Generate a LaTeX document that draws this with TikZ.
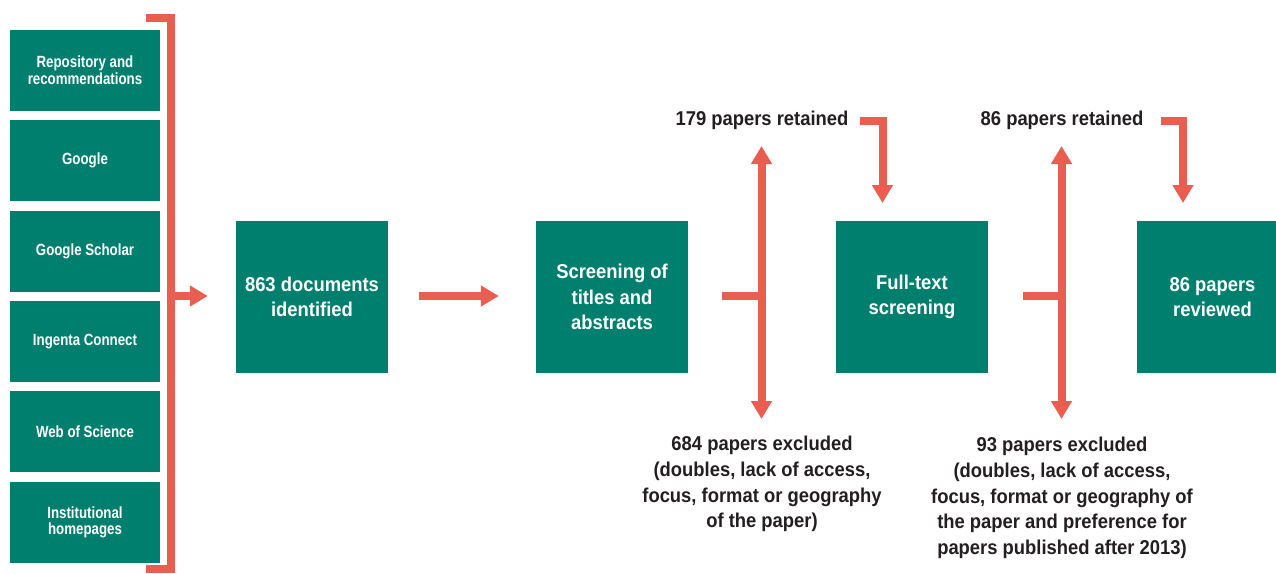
\documentclass[tikz,border=0pt]{standalone}
\usepackage{fontspec}
\setmainfont{Liberation Sans}[FakeStretch=0.92]
\newfontfamily\smallf{Liberation Sans}[FakeStretch=0.82]
\usetikzlibrary{arrows.meta}
\definecolor{teal0}{RGB}{0,127,110}
\definecolor{red0}{RGB}{234,94,82}
\definecolor{ink}{RGB}{35,31,32}
\tikzset{
 src/.style={fill=teal0, minimum width=150pt, minimum height=81pt, inner sep=0pt, text=white, align=center, font=\smallf\bfseries\fontsize{16.2}{16.7}\selectfont},
 stage/.style={fill=teal0, minimum width=152pt, minimum height=152pt, inner sep=0pt, text=white, align=center, font=\bfseries\fontsize{20}{25.5}\selectfont},
 lbl/.style={text=ink, align=center, inner sep=0pt, font=\bfseries\fontsize{20}{25.7}\selectfont},
 flow/.style={draw=red0, line width=8pt, -{Triangle[length=18pt,width=20pt]}},
 bar/.style={draw=red0, line width=8pt},
}
\begin{document}
\begin{tikzpicture}[x=1pt,y=-1pt]
\clip (0,0) rectangle (1276,573);
\fill[white] (0,0) rectangle (1276,573);
% sources
\node[src] (s1) at (85,70.5) {Repository and\\recommendations};
\node[src] (s2) at (85,160.8) {Google};
\node[src] (s3) at (85,251.2) {Google Scholar};
\node[src] (s4) at (85,341.5) {Ingenta Connect};
\node[src] (s5) at (85,431.8) {Web of Science};
\node[src] (s6) at (85,522.2) {Institutional\\homepages};
% bracket
\draw[bar] (146,18) -- (171,18) -- (171,569) -- (146,569);
\coordinate (brk) at (175,296);
% stages
\node[stage] (n863) at (312,297) {863 documents\\identified};
\node[stage] (scr) at (612,297) {Screening of\\titles and\\abstracts};
\node[stage] (full) at (912,297) {Full-text\\screening};
\node[stage] (rev) at (1212.5,297) {86 papers\\reviewed};
% flows
\draw[flow] (brk) -- ([xshift=-28pt]n863.west |- brk);
\draw[flow] ([xshift=31pt]n863.east |- brk) -- ([xshift=-37pt]scr.west |- brk);
% first decision
\coordinate (j1) at (761.5,296);
\coordinate (u1) at (761.5,146);
\coordinate (d1) at (761.5,419);
\draw[bar] ([xshift=34pt]scr.east |- j1) -- ([xshift=4pt]j1);
\draw[flow] (j1) -- (u1);
\draw[flow] (j1) -- (d1);
\node[lbl] (ret1) at (762,120) {179 papers retained};
\coordinate (r1s) at (860,121);
\coordinate (r1e) at (882.5,203);
\draw[flow] (r1s) -| (r1e);
\node[lbl, anchor=north] (exc1) at (762,436) {684 papers excluded\\(doubles, lack of access,\\focus, format or geography\\of the paper)};
% second decision
\coordinate (j2) at (1061.5,296);
\coordinate (u2) at (1061.5,146);
\coordinate (d2) at (1061.5,419);
\draw[bar] ([xshift=35pt]full.east |- j2) -- ([xshift=4pt]j2);
\draw[flow] (j2) -- (u2);
\draw[flow] (j2) -- (d2);
\node[lbl] (ret2) at (1062,120) {86 papers retained};
\coordinate (r2s) at (1161,121);
\coordinate (r2e) at (1183,203);
\draw[flow] (r2s) -| (r2e);
\node[lbl, anchor=north] (exc2) at (1062,437) {93 papers excluded\\(doubles, lack of access,\\focus, format or geography of\\the paper and preference for\\papers published after 2013)};
\end{tikzpicture}
\end{document}
